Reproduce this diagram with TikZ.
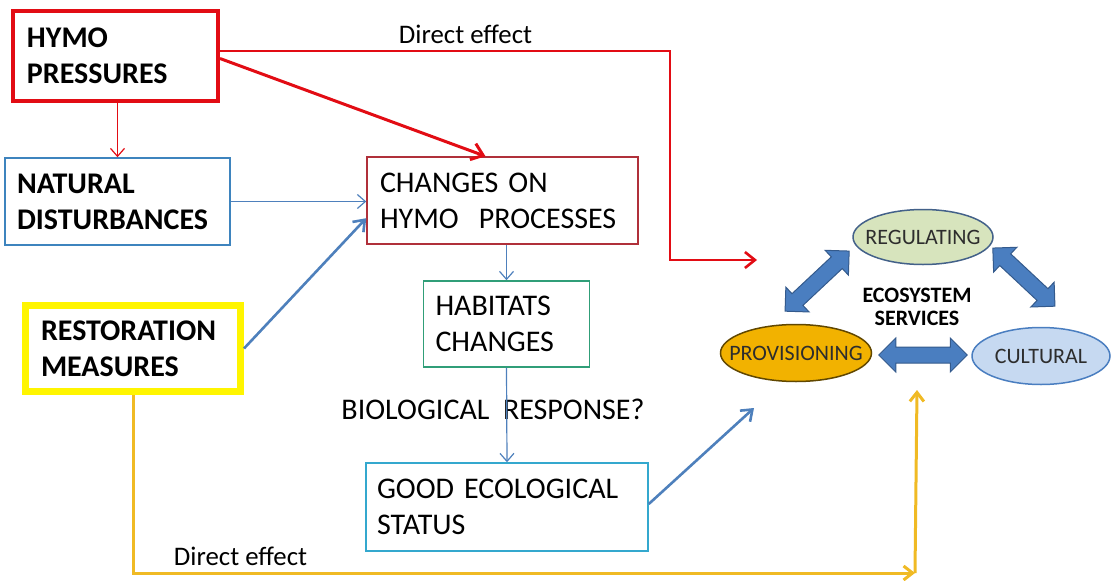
\documentclass[tikz,border=0pt]{standalone}
\usepackage{fontspec}
\setmainfont{Carlito}
\usetikzlibrary{arrows.meta,calc,shapes.geometric,shapes.arrows}

\definecolor{hymored}{RGB}{226,12,20}
\definecolor{natblue}{RGB}{62,132,190}
\definecolor{chgred}{RGB}{176,48,58}
\definecolor{habgreen}{RGB}{48,158,120}
\definecolor{resyellow}{RGB}{255,245,0}
\definecolor{goodcyan}{RGB}{52,168,206}
\definecolor{arrblue}{RGB}{78,128,188}
\definecolor{dirgold}{RGB}{240,186,36}
\definecolor{regfill}{RGB}{215,228,189}
\definecolor{provfill}{RGB}{242,178,0}
\definecolor{cultfill}{RGB}{198,217,241}
\definecolor{esblue}{RGB}{74,126,192}
\definecolor{esedge}{RGB}{52,90,140}
\definecolor{estext}{RGB}{45,45,45}

\newcommand{\boxfont}{\fontsize{30}{36}\selectfont}
\newcommand{\effectfont}{\fontsize{26.8}{32}\selectfont}
\newcommand{\esfont}{\fontsize{22}{22.5}\selectfont}

% fat two-headed arrow between two points
\newcommand{\esarrow}[2]{%
  \path let \p1=#1, \p2=#2,
    \n1={atan2(\y2-\y1,\x2-\x1)}, \n2={veclen(\x2-\x1,\y2-\y1)} in
    node[esdouble, minimum height=\n2, rotate=\n1] at ($(\p1)!0.5!(\p2)$) {};}

\begin{document}
\begin{tikzpicture}[x=1pt,y=-1pt,
  box/.style={draw, line width=1.5pt, align=left, inner ysep=0pt, font=\boxfont},
  service/.style={ellipse, draw, line width=1.5pt, inner sep=0pt, text=estext, font=\esfont},
  thin/.style={line width=1.2pt, -{Straight Barb[length=8pt,width=14pt]}},
  fat/.style={line width=3pt, -{Straight Barb[length=11pt,width=17pt]}},
  esdouble/.style={double arrow, draw=esedge, fill=esblue, line width=1pt,
    inner xsep=0pt, inner ysep=7.5pt, minimum width=0pt,
    double arrow head extend=9pt, double arrow tip angle=90}]
  \useasboundingbox (0,0) rectangle (1112,581);

  % Boxes
  \node[box, draw=hymored, line width=4pt, font=\boxfont\bfseries, minimum width=205pt,
    minimum height=90pt, text width=177pt, inner xsep=14pt] (hymo) at (115.5,55.5) {HYMO\\PRESSURES};
  \node[box, draw=natblue, font=\boxfont\bfseries, minimum width=225pt, minimum height=87pt,
    text width=201pt, inner xsep=12pt] (natural) at (117.5,201.5) {NATURAL\\DISTURBANCES};
  \node[box, draw=chgred, minimum width=271pt, minimum height=87pt, text width=245pt,
    inner xsep=13pt] (changes) at (502.5,200.5) {CHANGES ON\\HYMO\ \ PROCESSES};
  \node[box, draw=habgreen, minimum width=166pt, minimum height=86pt, text width=142pt,
    inner xsep=12pt] (habitats) at (506.5,324) {HABITATS\\CHANGES};
  \node[box, draw=resyellow, line width=7pt, font=\boxfont\bfseries, minimum width=215pt,
    minimum height=86pt, text width=184pt, inner xsep=15.5pt] (restoration) at (133,348.5) {RESTORATION\\MEASURES};
  \node[box, draw=goodcyan, minimum width=282pt, minimum height=88pt, text width=260pt,
    inner xsep=11pt] (good) at (507,507) {GOOD ECOLOGICAL\\STATUS};

  \node[font=\boxfont, inner sep=0pt] (response) at (493,409) {BIOLOGICAL\ \ RESPONSE?};

  % Ecosystem services
  \node[service, fill=regfill, draw=esedge!80!gray, minimum width=140pt, minimum height=55pt] (reg) at (923,237) {\makebox[0pt]{REGULATING}};
  \node[service, fill=provfill, draw=black!60!provfill, minimum width=151pt, minimum height=57pt] (prov) at (796,353) {\makebox[0pt]{PROVISIONING}};
  \node[service, fill=cultfill, draw=esblue, minimum width=138pt, minimum height=57pt] (cult) at (1041,356) {\makebox[0pt]{CULTURAL}};
  \node[font=\esfont\bfseries, align=center, inner sep=0pt] (es) at (917,307) {ECOSYSTEM\\SERVICES};

  \esarrow{($(prov.north)+(-11,-12.5)$)}{($(reg.west)+(-3,14)$)}
  \esarrow{($(reg.east)+(-1,11)$)}{($(cult.north)+(14,-20.5)$)}
  \esarrow{($(prov.east)+(6.5,2)$)}{($(cult.west)+(-4,-1)$)}

  % Free ends
  \coordinate (redin) at (757,260);
  \coordinate (goodin) at (754,408);
  \coordinate (ycorner) at (915,573);
  \coordinate (yin) at (917,390);

  % Arrows
  \draw[thin, hymored] (hymo.south -| natural.north) -- (natural.north);
  \draw[fat, hymored] ($(hymo.east)+(0,3)$) -- ($(changes.north)+(-17,0)$);
  \draw[hymored, line width=2.6pt, -{Straight Barb[length=10pt,width=16pt]}]
    ($(hymo.north east)!0.45!(hymo.south east)$) -| ($(redin)+(-87,0)$) -- (redin);
  \node[font=\effectfont, anchor=base, inner sep=0pt] at (465.5,43) {Direct effect};

  \draw[thin, arrblue] (natural.east) -- (natural.east -| changes.west);
  \draw[arrblue, line width=2.6pt, -{Straight Barb[length=10pt,width=15pt]}]
    (restoration.east) -- ($(changes.west)!0.4!(changes.south west)$);
  \draw[thin, arrblue] (changes.south -| habitats.north) -- (habitats.north);
  \draw[thin, arrblue] (habitats.south) -- (good.north);
  \draw[arrblue, line width=2.6pt, -{Straight Barb[length=10pt,width=15pt]}]
    ($(good.east)+(0,-3)$) -- (goodin);

  \draw[dirgold, line width=3pt, -{Straight Barb[length=9pt,width=14pt]}]
    (restoration.south) |- (ycorner);
  \draw[dirgold, line width=3pt, -{Straight Barb[length=9pt,width=14pt]}]
    (ycorner) -- (yin);
  \node[font=\effectfont, anchor=base, inner sep=0pt] at (240.5,565) {Direct effect};
\end{tikzpicture}
\end{document}
